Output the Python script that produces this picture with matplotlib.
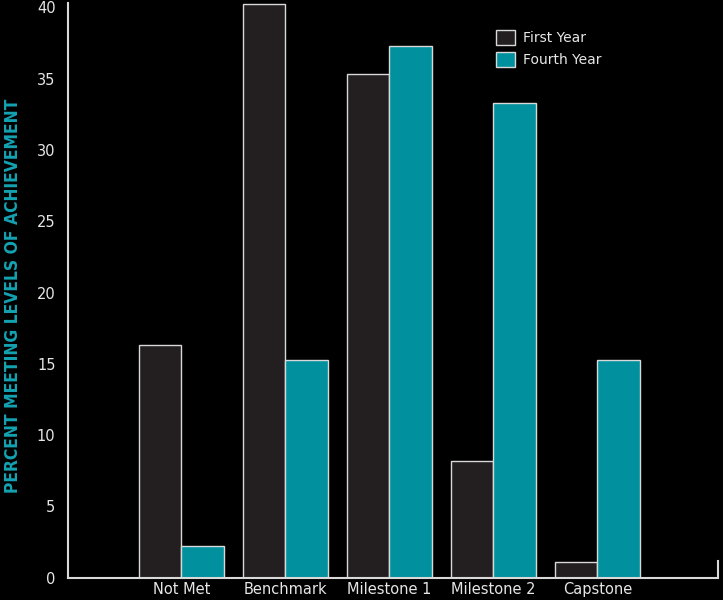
import numpy as np
import matplotlib
matplotlib.use("Agg")
import matplotlib.pyplot as plt

categories = ["Not Met", "Benchmark", "Milestone 1", "Milestone 2", "Capstone"]
first_year = [16.3, 40.2, 35.3, 8.2, 1.1]
fourth_year = [2.2, 15.3, 37.3, 33.3, 15.3]

dark = "#231f20"
teal = "#00909e"
label_teal = "#14a2b2"
edge = "#d9d9d9"

fig = plt.figure(figsize=(7.23, 6), dpi=100, facecolor="black")
ax = fig.add_axes([0.094, 0.037, 0.899, 0.958], facecolor="black")

x = np.arange(1, len(categories) + 1)
w = 0.41
ax.bar(x - w / 2, first_year, w, color=dark, edgecolor=edge, linewidth=1.0, label="First Year")
ax.bar(x + w / 2, fourth_year, w, color=teal, edgecolor=edge, linewidth=1.0, label="Fourth Year")

ax.set_xlim(-0.09, 6.16)
ax.set_ylim(0, 40.3)
ax.set_yticks(range(0, 41, 5))
ax.set_xticks(x)
ax.set_xticklabels(categories)
ax.tick_params(length=0, colors="#e6e6e6", labelsize=10.5)
ax.tick_params(axis="y", pad=9)
ax.tick_params(axis="x", pad=3)

for s in ["top", "right"]:
    ax.spines[s].set_visible(False)
for s in ["left", "bottom"]:
    ax.spines[s].set_color(edge)
    ax.spines[s].set_linewidth(1.5)
ax.axvline(ax.get_xlim()[1], ymax=0.03, color=edge, linewidth=1.5, clip_on=False)

ax.set_ylabel("PERCENT MEETING LEVELS OF ACHIEVEMENT", color=label_teal, fontsize=12.5,
              fontweight="bold", fontstretch="condensed")
ax.yaxis.set_label_coords(-0.07, 0.49)

leg = ax.legend(loc="upper left", bbox_to_anchor=(0.64, 0.975), frameon=False,
                fontsize=10, labelcolor="#e6e6e6", handlelength=1.3, handleheight=1.3,
                handletextpad=0.6, labelspacing=0.5)

fig.savefig("out.png", dpi=100, facecolor="black")
